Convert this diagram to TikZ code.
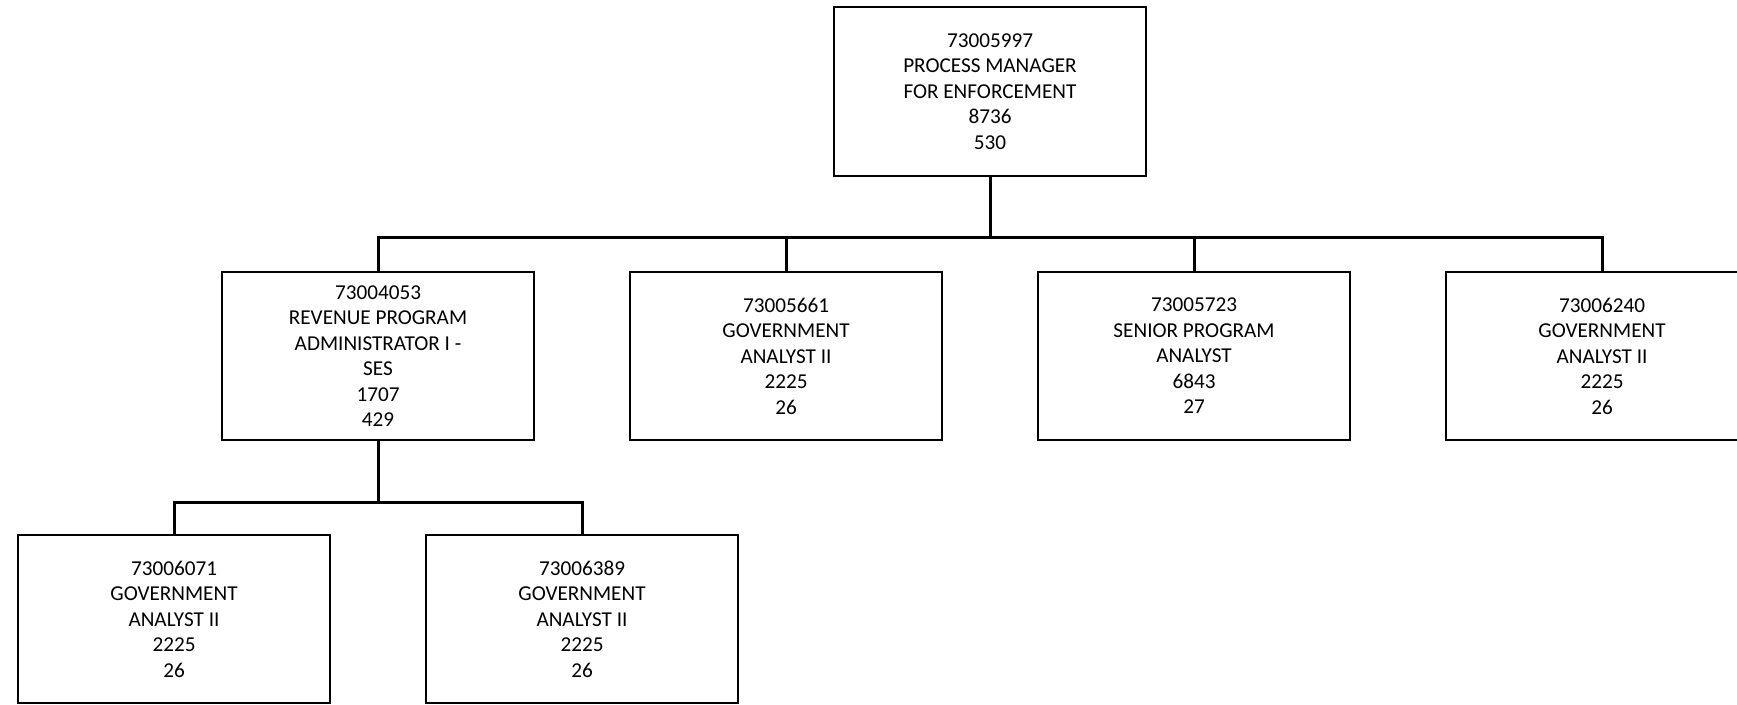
\documentclass[tikz,border=0pt]{standalone}
\usepackage{fontspec}
\setmainfont{Carlito}
\begin{document}
\begin{tikzpicture}[x=0.5pt,y=-0.5pt,
  posbox/.style={draw=black, line width=0.9pt, fill=white, minimum width=156pt,
    minimum height=84pt, align=center, inner sep=0pt,
    font=\fontsize{10.6}{12.75}\selectfont},
  conn/.style={line width=1.5pt}]
\useasboundingbox (0,0) rectangle (1737,705);
\clip (0,0) rectangle (1737,705);

% top position
\node[posbox, minimum height=84.5pt] (top) at (990,91.5)
  {73005997\\PROCESS MANAGER\\FOR ENFORCEMENT\\8736\\530};

% direct reports
\node[posbox] (b1) at (378,356) {73004053\\REVENUE PROGRAM\\ADMINISTRATOR I -\\SES\\1707\\429};
\node[posbox] (b2) at (786,356) {73005661\\GOVERNMENT\\ANALYST II\\2225\\26};
\node[posbox] (b3) at (1194,356) {73005723\\SENIOR PROGRAM\\ANALYST\\6843\\27};
\node[posbox] (b4) at (1602,356) {73006240\\GOVERNMENT\\ANALYST II\\2225\\26};

% second level
\node[posbox] (c1) at (174,619) {73006071\\GOVERNMENT\\ANALYST II\\2225\\26};
\node[posbox] (c2) at (582,619) {73006389\\GOVERNMENT\\ANALYST II\\2225\\26};

% connectors
\foreach \n in {b1,b2,b3,b4}
  \draw[conn] (top.south) -- ++(0,61) -| (\n.north);
\foreach \n in {c1,c2}
  \draw[conn] (b1.south) -- ++(0,62) -| (\n.north);
\end{tikzpicture}
\end{document}
